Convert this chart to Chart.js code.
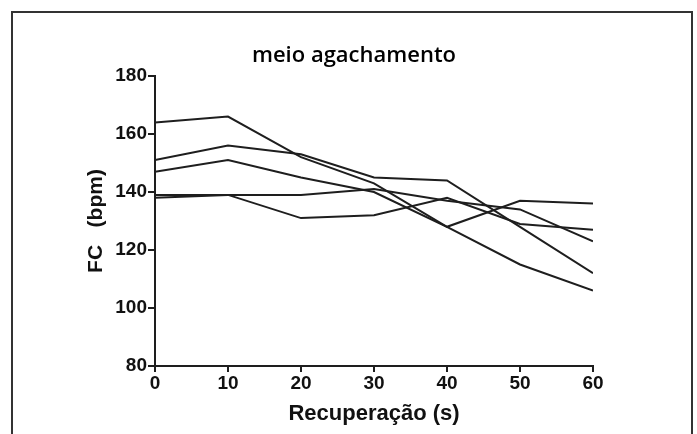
<!DOCTYPE html>
<html>
<head>
<meta charset="utf-8">
<script src="https://cdn.jsdelivr.net/npm/chart.js@4"></script>
<style>
  html, body { margin: 0; padding: 0; background: #fff; }
  #wrap { position: relative; width: 697px; height: 434px; overflow: hidden; }
  #frame { position: absolute; left: 11px; top: 11px; width: 678px; height: 440px; border: 2px solid #333; }
  #title { position: absolute; left: 0; width: 708px; top: 38px; text-align: center;
           font-family: "Open Sans", sans-serif; font-weight: 600; font-size: 22px; color: #000; }
  canvas { position: absolute; left: 0; top: 0; }
</style>
</head>
<body>
<div id="wrap">
  <div id="frame"></div>
  <canvas id="fcChart" width="697" height="434"></canvas>
  <div id="title">meio agachamento</div>
</div>
<script>
// tempo de recuperação (s) e FC de cada sujeito
const seconds = [0, 10, 20, 30, 40, 50, 60];
const subj1 = [164, 166, 152, 143, 128, 115, 106];
const subj2 = [151, 156, 153, 145, 144, 128, 112];
const subj3 = [147, 151, 145, 140, 128, 137, 136];
const subj4 = [139, 139, 139, 141, 137, 134, 123];
const subj5 = [138, 139, 131, 132, 138, 129, 127];
const yTicks = [80, 100, 120, 140, 160, 180];

const lineColor = '#1e1e1e';
const tickFont = { family: 'Liberation Sans, Arial, sans-serif', weight: 'bold', size: 19 };
const titleFont = { family: 'Liberation Sans, Arial, sans-serif', weight: 'bold', size: 22 };

function toPoints(values) {
    return values.map((v, i) => ({ x: seconds[i], y: v }));
}

const datasets = [subj1, subj2, subj3, subj4, subj5].map(s => ({
    data: toPoints(s),
    borderColor: lineColor,
    borderWidth: 2,
    pointRadius: 0,
    fill: false,
    tension: 0
}));

const ctx = document.getElementById('fcChart').getContext('2d');
new Chart(ctx, {
    type: 'line',
    data: { datasets: datasets },
    options: {
        responsive: false,
        animation: false,
        layout: { padding: { left: 0, right: 104, top: 76, bottom: 0 } },
        plugins: {
            legend: { display: false },
            tooltip: { enabled: false }
        },
        scales: {
            x: {
                type: 'linear',
                min: 0,
                max: 60,
                afterFit: s => { s.height = 68; },
                afterBuildTicks: s => { s.ticks = seconds.map(v => ({ value: v })); },
                border: { display: true, color: lineColor, width: 2 },
                grid: { drawOnChartArea: false, drawTicks: true, tickLength: 6, color: lineColor, lineWidth: 2 },
                ticks: { color: '#111', font: tickFont, padding: 0, maxRotation: 0 },
                title: { display: true, text: 'Recuperação (s)', color: '#111', font: titleFont, padding: { top: 6, bottom: 7 } }
            },
            y: {
                min: 80,
                max: 180,
                afterFit: s => { s.width = 155; },
                afterBuildTicks: s => { s.ticks = yTicks.map(v => ({ value: v })); },
                border: { display: true, color: lineColor, width: 2 },
                grid: { drawOnChartArea: false, drawTicks: true, tickLength: 7, color: lineColor, lineWidth: 2 },
                ticks: { color: '#111', font: tickFont, padding: 1 },
                title: { display: true, text: 'FC   (bpm)', color: '#111', font: { ...titleFont, size: 21 }, padding: { top: 84, bottom: 0 } }
            }
        }
    }
});
</script>
</body>
</html>
